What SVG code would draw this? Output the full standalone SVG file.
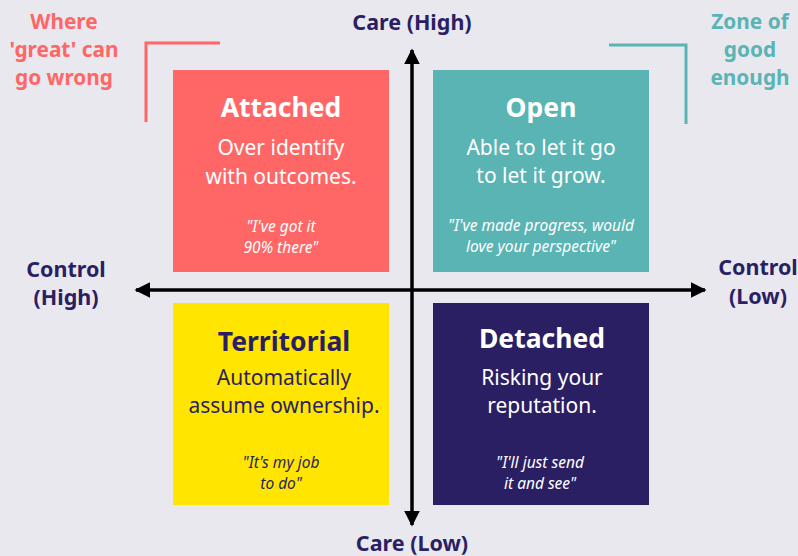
<svg xmlns="http://www.w3.org/2000/svg" width="798" height="556" viewBox="0 0 798 556">
<defs>
<style>
text{font-family:"Noto Sans","Open Sans","DejaVu Sans",sans-serif;text-anchor:middle}
.t{font-size:26.5px;font-weight:700}
.b{font-size:21px}
.q{font-size:15.5px;font-style:italic}
.w{fill:#ffffff}
.n{fill:#2b1f63}
.lab{font-size:21.5px;font-weight:700;fill:#2b1f63}
.red{font-size:20.8px;font-weight:700;fill:#ff6666}
.teal{font-size:20.8px;font-weight:700;fill:#5ab4b4}
.ax{stroke:#000;stroke-width:3.5;fill:none}
</style>
<marker id="ah" viewBox="0 0 10 10" refX="9" refY="5" markerWidth="4.5" markerHeight="4.5" orient="auto-start-reverse" markerUnits="strokeWidth">
<path d="M0,0 L10,5 L0,10 Z" fill="#000"/>
</marker>
</defs>
<rect width="798" height="556" fill="#e9e8ef"/>

<g id="attached">
<rect x="173" y="70" width="216" height="202" fill="#ff6666"/>
<text class="t w" x="281" y="117">Attached</text>
<text class="b w" x="281" y="155">Over identify</text>
<text class="b w" x="281" y="184">with outcomes.</text>
<text class="q w" x="281" y="232">"I've got it</text>
<text class="q w" x="281" y="253">90% there"</text>
</g>

<g id="open">
<rect x="433" y="70" width="216" height="202" fill="#5ab4b4"/>
<text class="t w" x="541" y="117">Open</text>
<text class="b w" x="541" y="155">Able to let it go</text>
<text class="b w" x="541" y="183">to let it grow.</text>
<text class="q w" x="541" y="231">"I've made progress, would</text>
<text class="q w" x="541" y="252">love your perspective"</text>
</g>

<g id="territorial">
<rect x="173" y="303" width="216" height="202" fill="#ffe500"/>
<text class="t n" x="284" y="351">Territorial</text>
<text class="b n" x="284" y="385">Automatically</text>
<text class="b n" x="284" y="413">assume ownership.</text>
<text class="q n" x="281" y="468">"It's my job</text>
<text class="q n" x="281" y="489">to do"</text>
</g>

<g id="detached">
<rect x="433" y="303" width="216" height="202" fill="#2b1f63"/>
<text class="t w" x="542" y="348">Detached</text>
<text class="b w" x="542" y="385">Risking your</text>
<text class="b w" x="542" y="413">reputation.</text>
<text class="q w" x="540" y="468">"I'll just send</text>
<text class="q w" x="540" y="489">it and see"</text>
</g>

<g id="connectors">
<line class="ax" x1="412" y1="50" x2="412" y2="525" marker-start="url(#ah)" marker-end="url(#ah)"/>
<line class="ax" x1="136" y1="290" x2="705" y2="290" marker-start="url(#ah)" marker-end="url(#ah)"/>
</g>

<g id="zone-great">
<text class="red" x="64" y="29">Where</text>
<text class="red" x="64" y="57">'great' can</text>
<text class="red" x="64" y="85">go wrong</text>
<polyline points="220,43 146,43 146,122" fill="none" stroke="#ff6666" stroke-width="3"/>
</g>

<g id="zone-good">
<text class="teal" x="750" y="29">Zone of</text>
<text class="teal" x="750" y="57">good</text>
<text class="teal" x="750" y="85">enough</text>
<polyline points="609,45 686,45 686,124" fill="none" stroke="#5ab4b4" stroke-width="3"/>
</g>

<g id="axis-labels">
<text class="lab" x="412" y="30">Care (High)</text>
<text class="lab" x="412" y="551">Care (Low)</text>
<text class="lab" x="66" y="277">Control</text>
<text class="lab" x="66" y="305">(High)</text>
<text class="lab" x="758" y="275">Control</text>
<text class="lab" x="758" y="304">(Low)</text>
</g>
</svg>
